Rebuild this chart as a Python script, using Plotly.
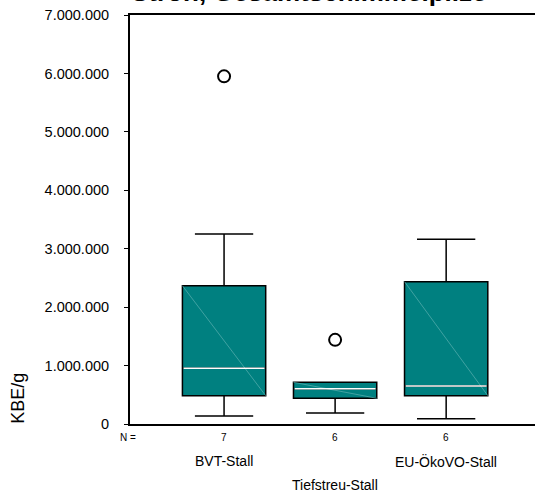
import plotly.graph_objects as go

# ---- data ----
categories = ["BVT-Stall", "Tiefstreu-Stall", "EU-ÖkoVO-Stall"]
n_counts = [7, 6, 6]
q1 = [485000, 440000, 485000]
median = [953000, 605000, 650000]
q3 = [2367000, 714000, 2436000]
lower_whisker = [137000, 188000, 90000]
upper_whisker = [3250000, 714000, 3160000]
outlier_cat = [1, 2]
outlier_val = [5950000, 1440000]
y_ticks = [0, 1000000, 2000000, 3000000, 4000000, 5000000, 6000000, 7000000]
title_text = "Stroh, Gesamtschimmelpilze"
y_title = "KBE/g"

FONT = "Liberation Sans, Arial, sans-serif"
TEAL = "#008080"
BW = 0.75
pos = [1, 2, 3]

fig = go.Figure()
for i, p in enumerate(pos):
    fig.add_trace(go.Box(
        x=[p], q1=[q1[i]], median=[median[i]], q3=[q3[i]],
        lowerfence=[lower_whisker[i]], upperfence=[upper_whisker[i]],
        width=BW, whiskerwidth=0.7, fillcolor=TEAL,
        line=dict(color="black", width=1.5), boxpoints=False,
        showlegend=False, hoverinfo="skip"))
    # faint diagonal artifact inside box
    fig.add_trace(go.Scatter(
        x=[p - BW / 2, p + BW / 2], y=[q3[i], q1[i]], mode="lines",
        line=dict(color="#5cb0b0", width=0.7), showlegend=False, hoverinfo="skip"))
    # white median line
    fig.add_trace(go.Scatter(
        x=[p - BW / 2 + 0.01, p + BW / 2 - 0.01], y=[median[i], median[i]], mode="lines",
        line=dict(color="white", width=1.5), showlegend=False, hoverinfo="skip"))

fig.add_trace(go.Scatter(
    x=outlier_cat, y=outlier_val, mode="markers",
    marker=dict(symbol="circle-open", size=12, color="black", line=dict(width=2, color="black")),
    showlegend=False, hoverinfo="skip"))

annotations = []
annotations.append(dict(x=0, xref="paper", xanchor="center", xshift=-2, y=-0.033, yref="paper",
                        yanchor="middle", text="N =", showarrow=False, font=dict(size=10, family=FONT)))
for i, p in enumerate(pos):
    annotations.append(dict(x=p, xref="x", y=-0.033, yref="paper", yanchor="middle",
                            text=str(n_counts[i]), showarrow=False, font=dict(size=10, family=FONT)))
    yy = -0.091 if i != 1 else -0.148
    annotations.append(dict(x=p, xref="x", y=yy, yref="paper", yanchor="middle",
                            text=categories[i], showarrow=False, font=dict(size=14, family=FONT)))
annotations.append(dict(x=-0.275, xref="paper", y=0.063, yref="paper", textangle=-90,
                        xanchor="center", yanchor="middle", text=y_title, showarrow=False,
                        font=dict(size=18, family=FONT)))
annotations.append(dict(x=(308.5 - 130) / 405, xref="paper", xanchor="center", y=1.0147, yref="paper",
                        yanchor="bottom", text="<b>" + title_text + "</b>", showarrow=False,
                        font=dict(size=26, family=FONT)))

fig.update_layout(
    width=535, height=492,
    margin=dict(l=130, r=0, t=15, b=68),
    paper_bgcolor="white", plot_bgcolor="white",
    separators=",.",
    font=dict(family=FONT, color="black"),
    annotations=annotations,
    xaxis=dict(range=[0.153, 3.80], showgrid=False, zeroline=False, showticklabels=False,
               showline=True, linecolor="black", linewidth=2, mirror=True, ticks=""),
    yaxis=dict(range=[0, 7000000], tickvals=y_ticks, tickformat=",.0f", showgrid=False,
               zeroline=False, showline=True, linecolor="black", linewidth=2,
               ticks="outside", ticklen=4, tickwidth=1, tickcolor="black",
               ticklabelstandoff=12, tickfont=dict(size=14.5, family=FONT)),
)

fig.write_html("out.html", config={"displayModeBar": False},
               post_script="document.body.style.margin='0';")
